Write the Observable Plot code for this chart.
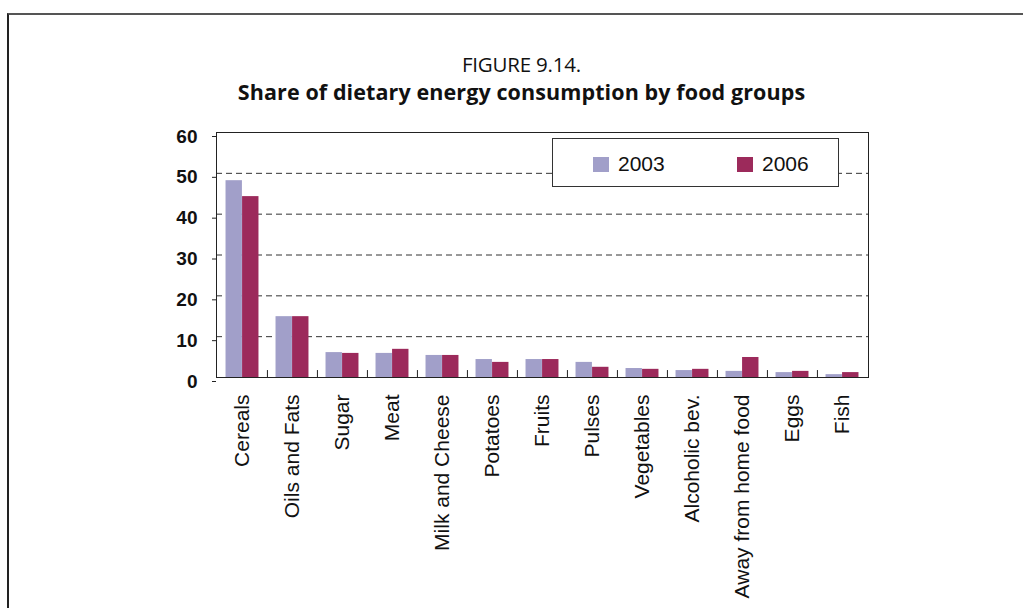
<!DOCTYPE html>
<html>
<head>
<meta charset="utf-8">
<script src="https://cdn.jsdelivr.net/npm/d3@7"></script>
<script src="https://cdn.jsdelivr.net/npm/@observablehq/plot@0.6"></script>
<style>
  html, body { margin: 0; padding: 0; background: #fff; }
  #wrap { position: relative; width: 1023px; height: 608px; overflow: hidden; }
  #border { position: absolute; left: 7px; top: 13px; width: 1030px; height: 620px;
            border-top: 2px solid #555; border-left: 2px solid #222; box-sizing: border-box; }
  #title { position: relative; height: 110px; width: 1023px; margin-left: 10px; text-align: center;
           font-family: "Open Sans", sans-serif; color: #111; }
  #t1 { position: absolute; left: 0; right: 0; top: 50px; font-size: 20.5px; letter-spacing: -0.2px; }
  #t2 { position: absolute; left: 0; right: 0; top: 77px; font-size: 21.5px; font-weight: bold; letter-spacing: 0.1px; }
  #legend { position: absolute; left: 552px; top: 138px; width: 287px; height: 49px;
            border: 1.5px solid #333; background: #fff; box-sizing: border-box;
            font-family: "Liberation Sans", Arial, sans-serif; font-size: 21px; color: #111; }
  .item { position: absolute; top: 0; height: 49px; display: flex; align-items: center; }
  .sw { width: 16px; height: 15px; margin-right: 9px; margin-top: 2px; }
  #chart { position: relative; }
</style>
</head>
<body>
<div id="wrap">
  <div id="border"></div>
  <div id="title">
    <div id="t1">FIGURE 9.14.</div>
    <div id="t2">Share of dietary energy consumption by food groups</div>
  </div>
  <div id="chart"></div>
  <div id="legend"></div>
</div>
<script>
const categories = ["Cereals", "Oils and Fats", "Sugar", "Meat", "Milk and Cheese", "Potatoes",
  "Fruits", "Pulses", "Vegetables", "Alcoholic bev.", "Away from home food", "Eggs", "Fish"];
const values2003 = [48.2, 14.9, 6.1, 5.9, 5.4, 4.4, 4.4, 3.7, 2.2, 1.7, 1.5, 1.2, 0.7];
const values2006 = [44.3, 14.9, 5.9, 6.9, 5.4, 3.7, 4.4, 2.5, 2.0, 2.0, 4.9, 1.5, 1.2];
const years = ["2003", "2006"];
const colors = ["#A19FC9", "#9C2A5B"];
const yTicks = [0, 10, 20, 30, 40, 50, 60];

const W = 1023, H = 498, mL = 216, mR = 155, mT = 22, mB = 231;
const step = (W - mL - mR) / categories.length;
const barW = step * 0.33;

const rows2003 = categories.map((c, i) => ({category: c, value: values2003[i]}));
const rows2006 = categories.map((c, i) => ({category: c, value: values2006[i]}));

const chart = Plot.plot({
  width: W, height: H,
  marginLeft: mL, marginRight: mR, marginTop: mT, marginBottom: mB,
  style: {fontFamily: "'Liberation Sans', Arial, sans-serif", color: "#111", background: "transparent"},
  x: {domain: categories, padding: 0, label: null},
  y: {domain: [0, 60], label: null},
  marks: [
    Plot.gridY(yTicks.filter(d => d > 0 && d < 60), {stroke: "#333", strokeOpacity: 1, strokeDasharray: "6,4"}),
    Plot.barY(rows2003, {x: "category", y: "value", fill: colors[0],
      insetLeft: step / 2 - barW, insetRight: step / 2}),
    Plot.barY(rows2006, {x: "category", y: "value", fill: colors[1],
      insetLeft: step / 2, insetRight: step / 2 - barW}),
    Plot.ruleX(categories.slice(1), {x: d => d, dx: -step / 2, y1: 0, y2: 1.7, stroke: "#222"}),
    Plot.frame({stroke: "#222"}),
    Plot.axisY({ticks: yTicks, tickSize: 4, tickPadding: 15, fontSize: 19, fontWeight: "bold",
      dy: 4, stroke: "#222", label: null}),
    Plot.axisX({tickSize: 0, tickRotate: -90, tickPadding: 18, fontSize: 21, dy: -1, label: null})
  ]
});
document.getElementById("chart").appendChild(chart);

const legend = document.getElementById("legend");
const lx = [40, 184];
years.forEach((y, i) => {
  const it = document.createElement("div");
  it.className = "item";
  it.style.left = lx[i] + "px";
  const sw = document.createElement("div");
  sw.className = "sw";
  sw.style.background = colors[i];
  const t = document.createElement("span");
  t.textContent = y;
  it.appendChild(sw); it.appendChild(t);
  legend.appendChild(it);
});
</script>
</body>
</html>
